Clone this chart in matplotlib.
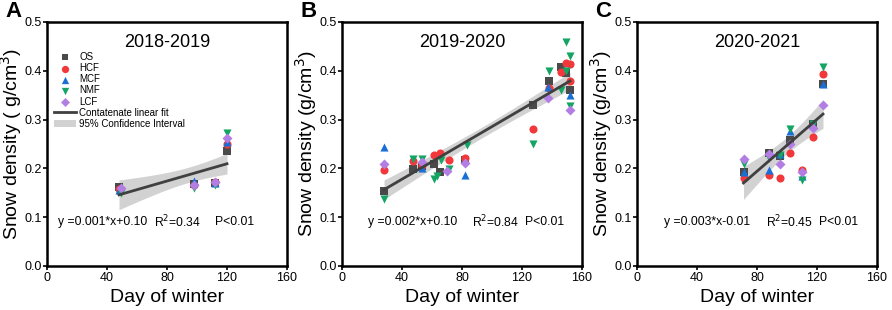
import matplotlib.pyplot as plt
import numpy as np

plt.rcParams['font.family'] = ['Liberation Sans', 'DejaVu Sans']

# ---- data ----
# panel A, winter 2018-2019
a_os_x = [48, 98, 112, 120]
a_os_y = [0.162, 0.168, 0.170, 0.235]
a_hcf_x = [48, 98, 112, 120]
a_hcf_y = [0.158, 0.165, 0.172, 0.250]
a_mcf_x = [48, 98, 112, 120]
a_mcf_y = [0.155, 0.175, 0.170, 0.255]
a_nmf_x = [49, 98, 112, 120]
a_nmf_y = [0.150, 0.160, 0.165, 0.272]
a_lcf_x = [49, 98, 112, 120]
a_lcf_y = [0.160, 0.165, 0.172, 0.262]

# panel B, winter 2019-2020
b_os_x = [28, 47, 53, 61, 65, 82, 127, 138, 146, 149, 152]
b_os_y = [0.153, 0.198, 0.205, 0.210, 0.192, 0.218, 0.330, 0.380, 0.408, 0.395, 0.360]
b_hcf_x = [28, 47, 53, 61, 65, 71, 82, 127, 138, 146, 149, 152, 152]
b_hcf_y = [0.197, 0.215, 0.207, 0.228, 0.231, 0.218, 0.222, 0.280, 0.365, 0.398, 0.415, 0.413, 0.380]
b_mcf_x = [28, 53, 82, 137, 152]
b_mcf_y = [0.243, 0.200, 0.186, 0.367, 0.350]
b_nmf_x = [28, 47, 53, 61, 63, 66, 71, 83, 127, 138, 146, 149, 149, 152, 152]
b_nmf_y = [0.137, 0.220, 0.220, 0.178, 0.185, 0.217, 0.198, 0.247, 0.250, 0.400, 0.360, 0.458, 0.400, 0.430, 0.328]
b_lcf_x = [28, 53, 70, 82, 137, 152]
b_lcf_y = [0.210, 0.213, 0.195, 0.211, 0.344, 0.320]

# panel C, winter 2020-2021
c_os_x = [71, 88, 95, 102, 117, 124]
c_os_y = [0.192, 0.232, 0.225, 0.258, 0.290, 0.372]
c_hcf_x = [71, 88, 95, 102, 110, 117, 124]
c_hcf_y = [0.180, 0.187, 0.180, 0.232, 0.197, 0.265, 0.393]
c_mcf_x = [71, 88, 95, 102, 110, 124]
c_mcf_y = [0.192, 0.197, 0.230, 0.277, 0.185, 0.373]
c_nmf_x = [71, 88, 95, 102, 110, 117, 124]
c_nmf_y = [0.210, 0.222, 0.227, 0.280, 0.176, 0.292, 0.408]
c_lcf_x = [71, 88, 95, 102, 110, 117, 124]
c_lcf_y = [0.220, 0.230, 0.210, 0.250, 0.192, 0.282, 0.330]

sites = ['OS', 'HCF', 'MCF', 'NMF', 'LCF']
titles = ['2018-2019', '2019-2020', '2020-2021']
letters = ['A', 'B', 'C']
equations = ['y =0.001*x+0.10', 'y =0.002*x+0.10', 'y =0.003*x-0.01']
r2_labels = ['R$^2$=0.34', 'R$^2$=0.84', 'R$^2$=0.45']
ylabels = ['Snow density ( g/cm$^3$)', 'Snow density (g/cm$^3$)', 'Snow density (g/cm$^3$)']

panels = [
    [(a_os_x, a_os_y), (a_hcf_x, a_hcf_y), (a_mcf_x, a_mcf_y), (a_nmf_x, a_nmf_y), (a_lcf_x, a_lcf_y)],
    [(b_os_x, b_os_y), (b_hcf_x, b_hcf_y), (b_mcf_x, b_mcf_y), (b_nmf_x, b_nmf_y), (b_lcf_x, b_lcf_y)],
    [(c_os_x, c_os_y), (c_hcf_x, c_hcf_y), (c_mcf_x, c_mcf_y), (c_nmf_x, c_nmf_y), (c_lcf_x, c_lcf_y)],
]

markers = ['s', 'o', '^', 'v', 'D']
colors = ['#4a4a4a', '#f2383a', '#1a6fd6', '#13a563', '#b27ee3']
msizes = [30, 34, 34, 34, 26]
eq_x = [7, 17, 18]
r2_x = [71, 87, 86]
p_x = [112, 122, 121]

fig = plt.figure(figsize=(8.92, 3.10), dpi=100)
lefts = [47 / 892, 342 / 892, 637 / 892]

for i in range(3):
    ax = fig.add_axes([lefts[i], 44 / 310, 240 / 892, 244 / 310])
    xs_all = []
    ys_all = []
    for j, (xs, ys) in enumerate(panels[i]):
        ax.scatter(xs, ys, marker=markers[j], s=msizes[j], color=colors[j],
                   linewidths=0, zorder=3, label=sites[j])
        xs_all += xs
        ys_all += ys

    # concatenated OLS fit with 95% confidence band
    X = np.array(xs_all, dtype=float)
    Y = np.array(ys_all)
    slope, icpt = np.polyfit(X, Y, 1)
    n = len(X)
    resid = Y - (slope * X + icpt)
    s = np.sqrt(np.sum(resid ** 2) / (n - 2))
    xf = np.linspace(X.min(), X.max(), 100)
    yf = slope * xf + icpt
    se = s * np.sqrt(1 / n + (xf - X.mean()) ** 2 / np.sum((X - X.mean()) ** 2))
    ax.fill_between(xf, yf - 2.1 * se, yf + 2.1 * se, color='#c4c4c4',
                    alpha=0.75, lw=0, zorder=2, label='95% Confidence Interval')
    ax.plot(xf, yf, color='#404040', lw=2, zorder=4, label='Contatenate linear fit')

    ax.set_xlim(0, 160)
    ax.set_ylim(0, 0.5)
    ax.set_xticks([0, 40, 80, 120, 160])
    ax.set_yticks([0.0, 0.1, 0.2, 0.3, 0.4, 0.5])
    ax.yaxis.set_major_formatter(plt.FormatStrFormatter('%.1f'))
    ax.tick_params(labelsize=9, length=3, width=1.2, pad=1)
    for sp in ax.spines.values():
        sp.set_linewidth(1.8)
    ax.set_xlabel('Day of winter', fontsize=14, labelpad=4)
    ax.set_ylabel(ylabels[i], fontsize=14)
    ax.yaxis.set_label_coords(-0.095, 0.5)
    ax.text(0.5, 0.915, titles[i], transform=ax.transAxes, ha='center',
            va='center', fontsize=13)
    ax.text(eq_x[i], 0.09, equations[i], fontsize=8.7, va='center')
    ax.text(r2_x[i], 0.09, r2_labels[i], fontsize=8.7, va='center')
    ax.text(p_x[i], 0.09, 'P<0.01', fontsize=8.7, va='center')
    fig.text(lefts[i] - 42 / 892, 0.962, letters[i], fontsize=16,
             fontweight='bold', va='center', ha='left')

    if i == 0:
        h, l = ax.get_legend_handles_labels()
        order = [0, 1, 2, 3, 4, 6, 5]
        ax.legend([h[k] for k in order], [l[k] for k in order], loc='upper left',
                  bbox_to_anchor=(0.0, 0.905), frameon=False, fontsize=7,
                  handlelength=2.3, handletextpad=0.3, labelspacing=0.12,
                  borderpad=0.2, markerscale=0.9)

fig.savefig('out.png', dpi=100)
